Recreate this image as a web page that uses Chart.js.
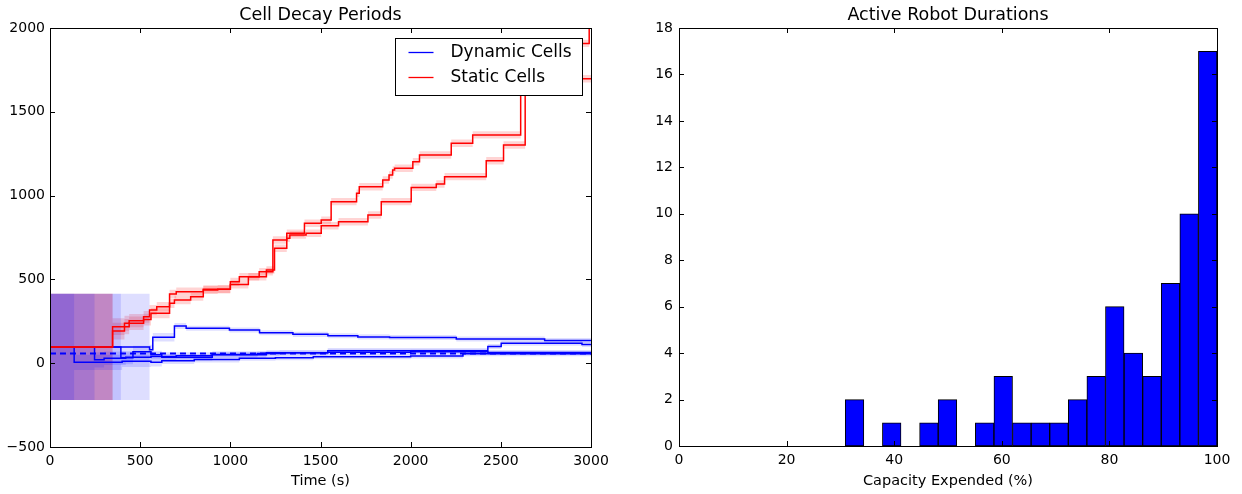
<!DOCTYPE html>
<html>
<head>
<meta charset="utf-8">
<script src="https://cdn.jsdelivr.net/npm/chart.js@4.4.0/dist/chart.umd.min.js"></script>
<style>
html, body { margin: 0; padding: 0; background: #fff; }
#left { position: absolute; left: 0; top: 0; width: 620px; height: 494px; }
#right { position: absolute; left: 630px; top: 0; width: 612px; height: 494px; }
</style>
</head>
<body>
<div id="left"><canvas id="decay"></canvas></div>
<div id="right"><canvas id="robots"></canvas></div>
<script>
// rows are [time (s), value, band half-width]
var dynamic1 = [[0,97,317],[134,5,45],[400,12,35],[560,5,25],[620,15,20],[800,22,18],[1050,30,15],[1250,33,15],[1460,39,15],[2000,43,15],[2290,56,15],[3000,56,15]];
var dynamic2 = [[0,97,317],[247,20,45],[300,30,40],[420,35,30],[560,40,25],[700,45,20],[900,52,18],[1150,58,15],[1273,62,15],[1540,66,15],[2000,68,15],[2428,64,15],[3000,64,15]];
var dynamic3 = [[0,97,317],[393,33,40],[460,69,35],[560,50,25],[620,35,20],[900,50,18],[1200,62,15],[1540,75,15],[2428,99,15],[2502,119,15],[2950,112,15],[3000,112,15]];
var dynamic4 = [[0,97,317],[552,80,30],[570,155,25],[690,222,18],[755,208,15],[995,198,15],[1162,182,15],[1347,172,15],[1541,164,15],[1707,157,15],[1883,154,15],[2253,144,15],[2743,136,15],[3000,136,15]];
var dynamicMean = [[0,58],[3000,58]];

var staticA = [[0,97,317],[347,218,50],[413,238,45],[439,254,40],[519,277,35],[552,317,30],[592,337,28],[663,413,25],[700,427,24],[850,441,24],[1000,486,24],[1050,516,22],[1160,546,22],[1236,735,22],[1313,775,22],[1411,835,22],[1504,854,22],[1559,964,22],[1700,1014,22],[1715,1053,22],[1845,1093,22],[1880,1123,22],[1900,1153,22],[1911,1163,22],[2012,1202,22],[2049,1242,22],[2225,1312,22],[2344,1362,22],[2610,1908,22],[2990,2050,22],[3000,2050,22]];
var staticB = [[0,97,317],[347,192,50],[413,218,45],[439,238,40],[519,260,35],[560,298,30],[663,357,28],[690,377,25],[780,397,24],[850,437,24],[930,441,24],[1000,470,24],[1100,516,22],[1200,556,22],[1245,686,22],[1313,745,22],[1330,765,22],[1420,775,22],[1504,820,22],[1600,844,22],[1763,884,22],[1837,964,22],[2003,1049,22],[2142,1069,22],[2188,1113,22],[2419,1208,22],[2515,1302,22],[2635,1697,22],[3000,1697,22]];

var legendLabels = ['Dynamic Cells', 'Static Cells'];
var legendColors = ['#0000ff', '#ff0000'];

// histogram: 20 equal bins between histLo and histHi
var histLo = 30.9, histHi = 100;
var histCounts = [2,0,1,0,1,2,0,1,3,1,1,1,2,3,6,4,3,7,10,17];

Chart.defaults.font.family = "'DejaVu Sans', sans-serif";
Chart.defaults.color = '#000';

function plainTick(v) {
    return v < 0 ? '\u2212' + Math.abs(v) : String(v);
}

function stepLine(rows, color, order, dash) {
    return {
        data: rows.map(function (r) { return {x: r[0], y: r[1]}; }),
        borderColor: color,
        borderWidth: dash ? 2 : 1.5,
        borderDash: dash || [],
        pointRadius: 0,
        stepped: true,
        fill: false,
        order: order
    };
}

function band(rows, color) {
    return [{
        data: rows.map(function (r) { return {x: r[0], y: r[1] + r[2]}; }),
        borderColor: 'rgba(0,0,0,0)', borderWidth: 0, pointRadius: 0,
        stepped: true, fill: '+1', backgroundColor: color, order: 20
    }, {
        data: rows.map(function (r) { return {x: r[0], y: r[1] - r[2]}; }),
        borderColor: 'rgba(0,0,0,0)', borderWidth: 0, pointRadius: 0,
        stepped: true, fill: false, order: 20
    }];
}

// matplotlib style frame with inward ticks
var framePlugin = {
    id: 'frame',
    afterDatasetsDraw: function (chart) {
        var a = chart.chartArea, ctx = chart.ctx;
        ctx.save();
        ctx.strokeStyle = '#000';
        ctx.lineWidth = 1;
        ctx.beginPath();
        chart.scales.x.ticks.forEach(function (t) {
            var p = Math.round(chart.scales.x.getPixelForValue(t.value)) + 0.5;
            ctx.moveTo(p, a.bottom); ctx.lineTo(p, a.bottom - 5);
            ctx.moveTo(p, a.top); ctx.lineTo(p, a.top + 5);
        });
        chart.scales.y.ticks.forEach(function (t) {
            var p = Math.round(chart.scales.y.getPixelForValue(t.value)) + 0.5;
            ctx.moveTo(a.left, p); ctx.lineTo(a.left + 5, p);
            ctx.moveTo(a.right, p); ctx.lineTo(a.right - 5, p);
        });
        ctx.stroke();
        ctx.strokeRect(Math.round(a.left) + 0.5, Math.round(a.top) + 0.5,
            Math.round(a.right - a.left), Math.round(a.bottom - a.top));
        ctx.restore();
    }
};

var legendPlugin = {
    id: 'legendBox',
    afterDatasetsDraw: function (chart) {
        var a = chart.chartArea, ctx = chart.ctx;
        var w = 187, h = 57;
        var x0 = Math.round(a.right - 9 - w) + 0.5, y0 = Math.round(a.top + 10) + 0.5;
        ctx.save();
        ctx.fillStyle = '#fff';
        ctx.fillRect(x0, y0, w, h);
        ctx.strokeStyle = '#000';
        ctx.lineWidth = 1;
        ctx.strokeRect(x0, y0, w, h);
        ctx.font = "17px 'DejaVu Sans'";
        ctx.textBaseline = 'middle';
        legendLabels.forEach(function (label, i) {
            var y = y0 + 14 + i * 25;
            ctx.strokeStyle = legendColors[i];
            ctx.lineWidth = 1.3;
            ctx.beginPath();
            ctx.moveTo(x0 + 13, y); ctx.lineTo(x0 + 38, y);
            ctx.stroke();
            ctx.fillStyle = '#000';
            ctx.fillText(label, x0 + 55, y);
        });
        ctx.restore();
    }
};

var decaySets = [];
[dynamic1, dynamic2, dynamic3, dynamic4].forEach(function (s) {
    decaySets = decaySets.concat(band(s, 'rgba(0,0,255,0.13)'));
});
[staticA, staticB].forEach(function (s) {
    decaySets = decaySets.concat(band(s, 'rgba(255,0,0,0.17)'));
});
[dynamic1, dynamic2, dynamic3, dynamic4].forEach(function (s) {
    decaySets.push(stepLine(s, '#0000ff', 5));
});
decaySets.push(stepLine(dynamicMean, '#0000ff', 4, [6, 4]));
[staticA, staticB].forEach(function (s) {
    decaySets.push(stepLine(s, '#ff0000', 1));
});

new Chart(document.getElementById('decay'), {
    type: 'line',
    data: {datasets: decaySets},
    plugins: [framePlugin, legendPlugin],
    options: {
        responsive: true,
        maintainAspectRatio: false,
        animation: false,
        layout: {padding: {left: 0, right: 29, top: 0, bottom: 0}},
        plugins: {
            legend: {display: false},
            tooltip: {enabled: false},
            title: {
                display: true, text: 'Cell Decay Periods', fullSize: false,
                font: {size: 17.5, weight: 'normal'}, padding: {top: 5, bottom: 2}
            }
        },
        scales: {
            x: {
                type: 'linear', min: 0, max: 3000,
                grid: {display: false, drawTicks: false},
                border: {display: false},
                ticks: {stepSize: 500, font: {size: 14}, padding: 6, maxRotation: 0, callback: plainTick},
                title: {display: true, text: 'Time (s)', font: {size: 14.5}, padding: {top: 0, bottom: 4}},
                afterFit: function (scale) { scale.height = 47; }
            },
            y: {
                min: -500, max: 2000,
                grid: {display: false, drawTicks: false},
                border: {display: false},
                ticks: {stepSize: 500, font: {size: 14}, padding: 5, callback: plainTick},
                afterFit: function (scale) { scale.width = 50; }
            }
        }
    }
});

var binWidth = (histHi - histLo) / histCounts.length;
var histBars = [];
histCounts.forEach(function (c, i) {
    if (c > 0) histBars.push({x: histLo + (i + 0.5) * binWidth, y: c});
});

new Chart(document.getElementById('robots'), {
    type: 'bar',
    data: {
        datasets: [{
            data: histBars,
            backgroundColor: '#0000ff',
            borderColor: '#000',
            borderWidth: 1,
            borderSkipped: false,
            barPercentage: 1,
            categoryPercentage: 1
        }]
    },
    plugins: [framePlugin],
    options: {
        responsive: true,
        maintainAspectRatio: false,
        animation: false,
        layout: {padding: {left: 0, right: 25, top: 0, bottom: 0}},
        plugins: {
            legend: {display: false},
            tooltip: {enabled: false},
            title: {
                display: true, text: 'Active Robot Durations', fullSize: false,
                font: {size: 17.5, weight: 'normal'}, padding: {top: 5, bottom: 2}
            }
        },
        scales: {
            x: {
                type: 'linear', min: 0, max: 100, offset: false,
                grid: {display: false, drawTicks: false},
                border: {display: false},
                ticks: {stepSize: 20, font: {size: 14}, padding: 6, maxRotation: 0, callback: plainTick},
                title: {display: true, text: 'Capacity Expended (%)', font: {size: 14.5}, padding: {top: 0, bottom: 4}},
                afterFit: function (scale) { scale.height = 48; }
            },
            y: {
                min: 0, max: 18,
                grid: {display: false, drawTicks: false},
                border: {display: false},
                ticks: {stepSize: 2, font: {size: 14}, padding: 6, callback: plainTick},
                afterFit: function (scale) { scale.width = 49; }
            }
        }
    }
});
</script>
</body>
</html>
